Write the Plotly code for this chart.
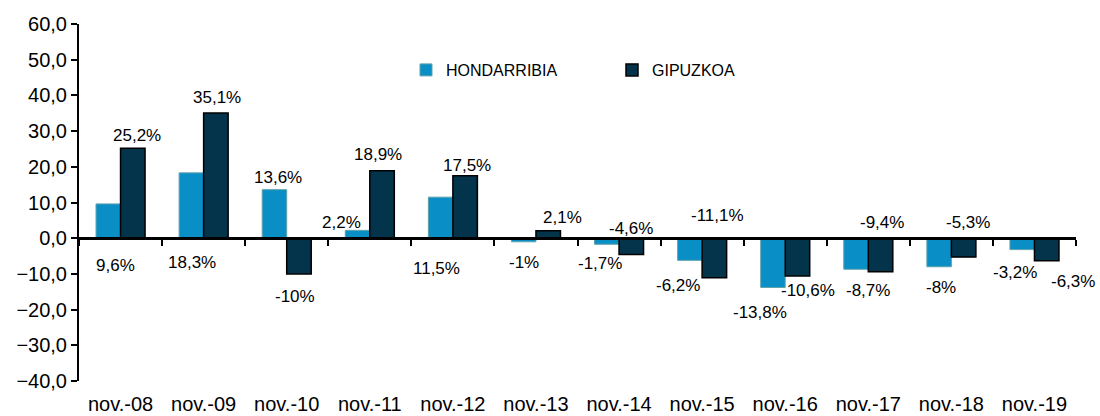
import plotly.graph_objects as go

# ---- data ----
categories = ["nov.-08", "nov.-09", "nov.-10", "nov.-11", "nov.-12", "nov.-13",
              "nov.-14", "nov.-15", "nov.-16", "nov.-17", "nov.-18", "nov.-19"]
hondarribia = [9.6, 18.3, 13.6, 2.2, 11.5, -1.0, -1.7, -6.2, -13.8, -8.7, -8.0, -3.2]
gipuzkoa = [25.2, 35.1, -10.0, 18.9, 17.5, 2.1, -4.6, -11.1, -10.6, -9.4, -5.3, -6.3]
y_ticks = [-40, -30, -20, -10, 0, 10, 20, 30, 40, 50, 60]

# ---- label placement (axis units for y, pixel shift for x) ----
hon_label_y = [-7.6, -6.7, 17.1, 4.5, -8.4, -6.7, -7.0, -13.2, -20.7, -14.6, -13.7, -9.5]
hon_label_dx = [7, 0, 3, -16, -4, 0, -7, -12, -13, 12, 2, -7]
gip_label_y = [28.9, 39.5, -16.2, 23.5, 20.4, 5.9, 2.8, 6.4, -14.6, 4.5, 4.5, -12.0]
gip_label_dx = [4, 1, -4, -4, 2, 15, 0, 3, 11, 2, 5, 27]

FONT = "Arial, Liberation Sans, sans-serif"
HON_COLOR = "#0a8ec6"
GIP_COLOR = "#03344c"


def fmt(v):
    return f"{v:g}".replace(".", ",") + "%"


fig = go.Figure()
fig.add_trace(go.Bar(
    x=categories, y=hondarribia, name="HONDARRIBIA",
    marker=dict(color=HON_COLOR, line=dict(color="#5fa3ad", width=1)),
))
fig.add_trace(go.Bar(
    x=categories, y=gipuzkoa, name="GIPUZKOA",
    marker=dict(color=GIP_COLOR, line=dict(color="#000000", width=1.5)),
))

# helper trace for the zero-line axis with boundary ticks
n = len(categories)
fig.add_trace(go.Scatter(
    x=[-0.5, n - 0.5], y=[0, 0], xaxis="x2", yaxis="y",
    mode="lines", line=dict(width=0, color="rgba(0,0,0,0)"),
    showlegend=False, hoverinfo="skip",
))

BAR_HALF = 12
for i, c in enumerate(categories):
    fig.add_annotation(x=c, y=hon_label_y[i], xref="x", yref="y",
                       text=fmt(hondarribia[i]), showarrow=False,
                       xshift=-BAR_HALF + hon_label_dx[i],
                       font=dict(family=FONT, size=17, color="#000"))
    fig.add_annotation(x=c, y=gip_label_y[i], xref="x", yref="y",
                       text=fmt(gipuzkoa[i]), showarrow=False,
                       xshift=BAR_HALF + gip_label_dx[i],
                       font=dict(family=FONT, size=17, color="#000"))

fig.update_layout(
    width=1100, height=416,
    margin=dict(l=79, r=24, t=24, b=35, autoexpand=False),
    paper_bgcolor="white", plot_bgcolor="white",
    separators=",.",
    barmode="group", bargap=0.41, bargroupgap=0,
    font=dict(family=FONT, color="#000"),
    showlegend=True,
    legend=dict(
        orientation="h", xref="container", yref="container",
        x=406 / 1100, y=1 - 70 / 416, xanchor="left", yanchor="middle",
        font=dict(family=FONT, size=16, color="#000"),
        entrywidth=161, bgcolor="rgba(0,0,0,0)", itemwidth=30,
    ),
    xaxis=dict(
        type="category", range=[-0.5, n - 0.5],
        showline=False, showgrid=False, zeroline=False,
        ticks="outside", ticklen=5, tickcolor="rgba(0,0,0,0)",
        tickfont=dict(family=FONT, size=20, color="#000"),
    ),
    xaxis2=dict(
        overlaying="x", anchor="free", position=0.4,
        range=[-0.5, n - 0.5], showgrid=False, zeroline=False,
        showline=True, linecolor="#000", linewidth=2.5,
        ticks="outside", ticklen=6, tickwidth=2, tickcolor="#000",
        tickvals=[k - 0.5 for k in range(n + 1)], showticklabels=False,
    ),
    yaxis=dict(
        range=[-40, 60], tickvals=y_ticks, tickformat=".1f",
        showgrid=False, zeroline=False,
        showline=True, linecolor="#000", linewidth=2,
        ticks="outside", ticklen=6, tickwidth=2, tickcolor="#000",
        tickfont=dict(family=FONT, size=20, color="#000"),
    ),
)

fig.write_html("out.html", config={"displayModeBar": False},
               post_script="document.body.style.margin='0';")
